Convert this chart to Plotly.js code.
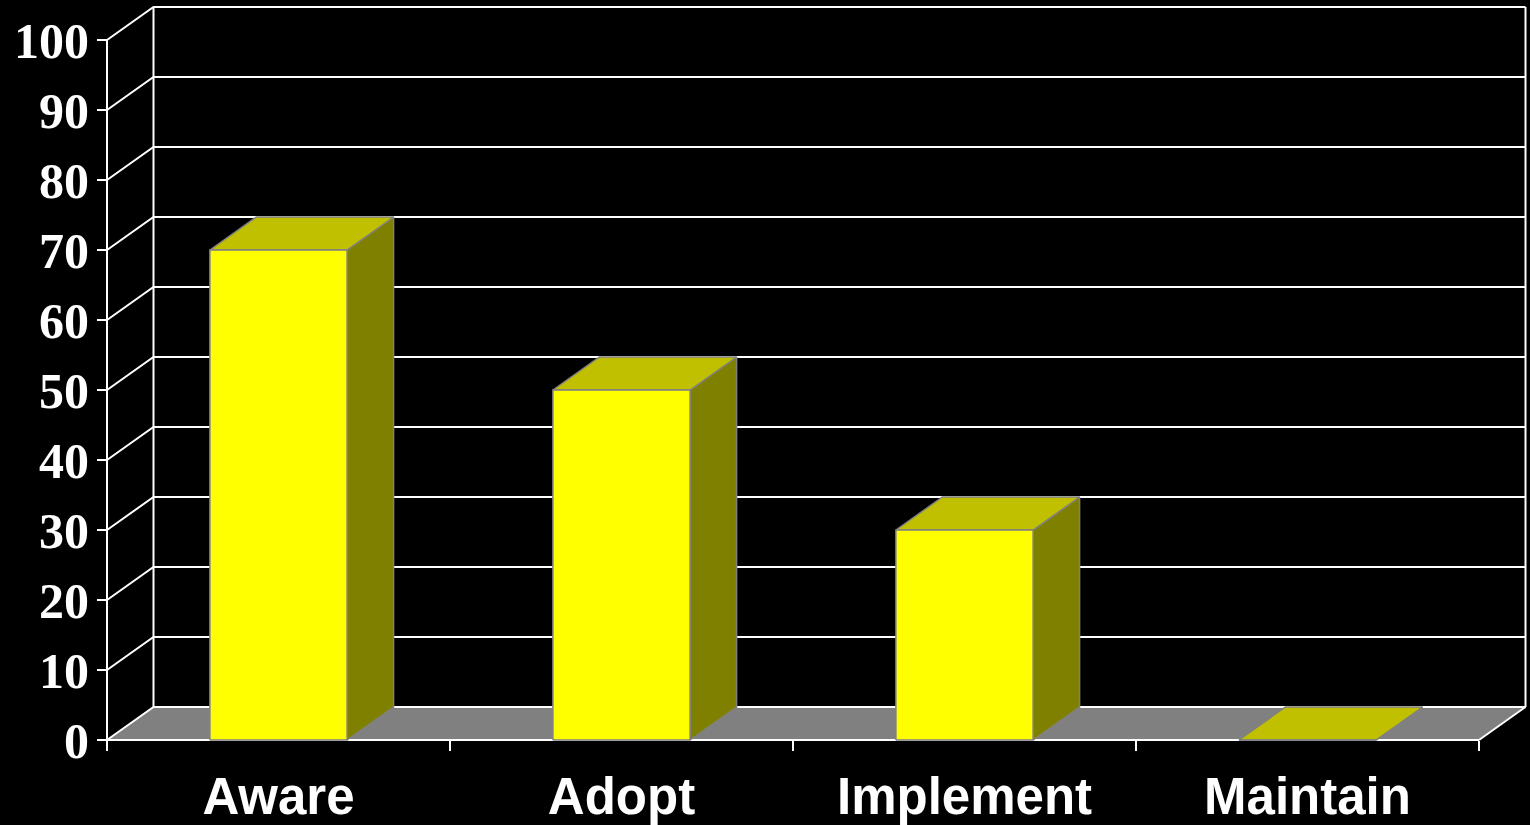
<!DOCTYPE html>
<html>
<head>
<meta charset="utf-8">
<script src="https://cdn.plot.ly/plotly-3.0.1.min.js"></script>
<style>html,body{margin:0;padding:0;background:#000;}#chart{width:1530px;height:825px;}</style>
</head>
<body>
<div id="chart"></div>
<script>
// ---- data ----
var categories = ["Aware", "Adopt", "Implement", "Maintain"];
var values = [70, 50, 30, 0];
var yTickValues = [0, 10, 20, 30, 40, 50, 60, 70, 80, 90, 100];
var yTickLabels = ["0", "10", "20", "30", "40", "50", "60", "70", "80", "90", "100"];

// ---- geometry (oblique 3D projection in data units) ----
var catPx = 343, unitPx = 7;
var DX = 46.5 / catPx;       // depth offset along x (category units)
var DY = 33 / unitPx;        // depth offset along y (value units)
var BW = 0.4;                // bar width (category units)
var X0 = -0.5, XR = categories.length - 0.5;
var YMAX = 100;

var L = 100, R = 0, T = 0, B = 78;
var plotW = 1530 - L - R, plotH = 825 - T - B;
var xr0 = X0 - (107 - L) / catPx;
var xr1 = xr0 + plotW / catPx;
var yr0 = -(plotH - (740 - T)) / unitPx;
var yr1 = yr0 + plotH / unitPx;

var traces = [];

// floor
traces.push({
  x: [X0, XR, XR + DX, X0 + DX, X0], y: [0, 0, DY, DY, 0],
  mode: 'lines', fill: 'toself', fillcolor: '#808080',
  line: {width: 0, color: '#808080'}, hoverinfo: 'skip', showlegend: false
});

// gridlines: left wall diagonal + back wall horizontal
var gx = [], gy = [];
yTickValues.forEach(function (v) {
  gx.push(X0, X0 + DX, XR + DX, null);
  gy.push(v, v + DY, v + DY, null);
});
// back wall edges, floor edges, front axis
gx.push(X0 + DX, X0 + DX, null, XR + DX, XR + DX, null, XR, XR + DX, null, X0, XR, null, X0, X0);
gy.push(DY, YMAX + DY, null, DY, YMAX + DY, null, 0, DY, null, 0, 0, null, 0, YMAX);
traces.push({
  x: gx, y: gy, mode: 'lines', line: {color: '#FFFFFF', width: 2},
  hoverinfo: 'skip', showlegend: false, connectgaps: false
});

// bars
var sideX = [], sideY = [], topX = [], topY = [], frontX = [], frontY = [];
values.forEach(function (v, i) {
  var a = i - BW / 2, b = i + BW / 2;
  sideX.push(b, b + DX, b + DX, b, b, null);
  sideY.push(0, DY, v + DY, v, 0, null);
  topX.push(a, b, b + DX, a + DX, a, null);
  topY.push(v, v, v + DY, v + DY, v, null);
  frontX.push(a, b, b, a, a, null);
  frontY.push(0, 0, v, v, 0, null);
});
function face(xs, ys, col) {
  return {x: xs, y: ys, mode: 'lines', fill: 'toself', fillcolor: col,
    line: {color: '#808080', width: 1.5}, hoverinfo: 'skip', showlegend: false};
}
traces.push(face(sideX, sideY, '#808000'));
traces.push(face(topX, topY, '#C0C000'));
traces.push(face(frontX, frontY, '#FFFF00'));

// category label carrier (invisible) on xaxis2
traces.push({x: [0, 1, 2, 3], y: [0, 0, 0, 0], xaxis: 'x2', mode: 'markers',
  marker: {opacity: 0}, hoverinfo: 'skip', showlegend: false});

var boundaries = [];
for (var k = 0; k <= categories.length; k++) boundaries.push(k - 0.5);

var layout = {
  width: 1530, height: 825,
  paper_bgcolor: '#000000', plot_bgcolor: '#000000',
  margin: {l: L, r: R, t: T, b: B, pad: 0},
  showlegend: false,
  xaxis: {
    range: [xr0, xr1], anchor: 'free', position: (plotH - (740 - T)) / plotH,
    showgrid: false, zeroline: false, showline: false,
    tickmode: 'array', tickvals: boundaries, ticktext: boundaries.map(function () { return ''; }),
    ticks: 'outside', ticklen: 10, tickwidth: 2, tickcolor: '#FFFFFF', fixedrange: true
  },
  xaxis2: {
    range: [xr0, xr1], overlaying: 'x', anchor: 'free', position: (plotH - (740 - T)) / plotH,
    showgrid: false, zeroline: false, showline: false,
    tickmode: 'array', tickvals: [0, 1, 2, 3], ticktext: categories,
    ticks: '', ticklabelstandoff: 22,
    tickfont: {family: 'Liberation Sans, Arial, sans-serif', size: 51, color: '#FFFFFF', weight: 'bold'}
  },
  yaxis: {
    range: [yr0, yr1], anchor: 'free', position: (107 - L) / plotW,
    showgrid: false, zeroline: false, showline: false,
    tickmode: 'array', tickvals: yTickValues, ticktext: yTickLabels,
    ticks: 'outside', ticklen: 10, tickwidth: 2, tickcolor: '#FFFFFF',
    ticklabelstandoff: -2,
    tickfont: {family: 'Liberation Serif, Times New Roman, serif', size: 50, color: '#FFFFFF', weight: 'bold'}
  }
};

Plotly.newPlot('chart', traces, layout, {staticPlot: true, displayModeBar: false});
</script>
</body>
</html>
